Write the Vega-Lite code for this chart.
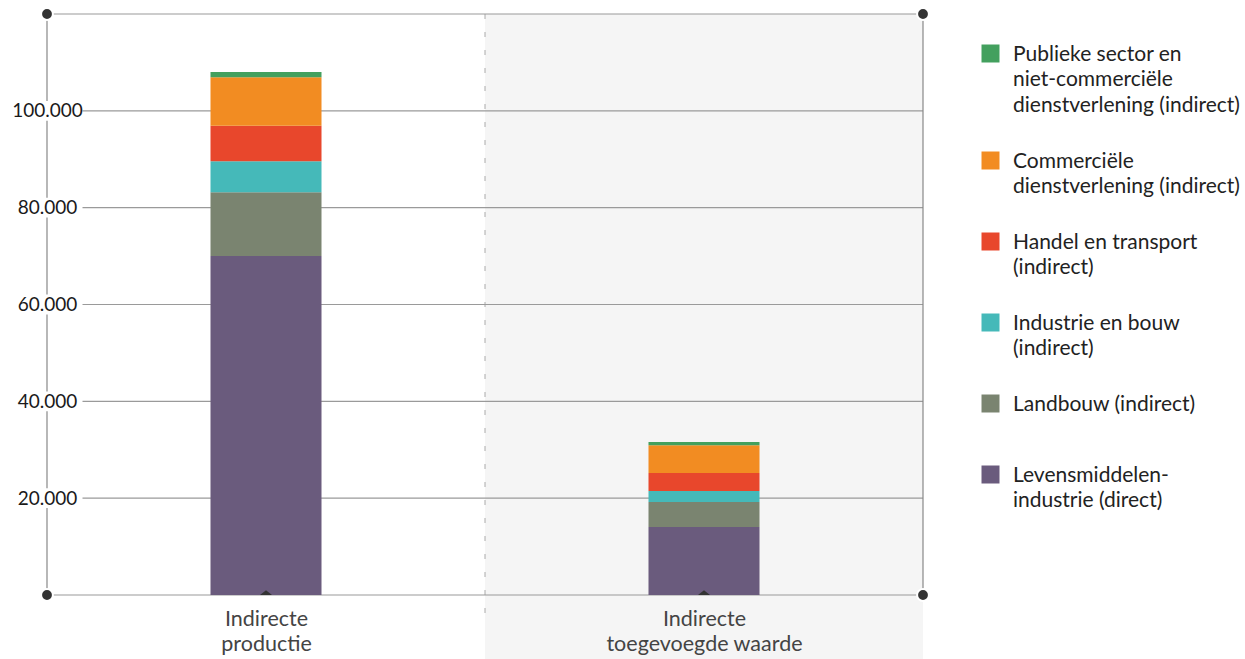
{
  "$schema": "https://vega.github.io/schema/vega-lite/v6.json",
  "width": 876,
  "height": 581,
  "autosize": {"type": "none"},
  "padding": {"left": 47, "top": 14, "right": 322, "bottom": 64},
  "background": "white",
  "config": {"view": {"stroke": null}, "font": "Lato"},
  "datasets": {
    "bars": [
      {"categorie": "Indirecte productie", "pos": 0.5, "sector": "Levensmiddelen-industrie (direct)", "ord": 1, "waarde": 70000},
      {"categorie": "Indirecte productie", "pos": 0.5, "sector": "Landbouw (indirect)", "ord": 2, "waarde": 13200},
      {"categorie": "Indirecte productie", "pos": 0.5, "sector": "Industrie en bouw (indirect)", "ord": 3, "waarde": 6400},
      {"categorie": "Indirecte productie", "pos": 0.5, "sector": "Handel en transport (indirect)", "ord": 4, "waarde": 7300},
      {"categorie": "Indirecte productie", "pos": 0.5, "sector": "Commerciële dienstverlening (indirect)", "ord": 5, "waarde": 10050},
      {"categorie": "Indirecte productie", "pos": 0.5, "sector": "Publieke sector en niet-commerciële dienstverlening (indirect)", "ord": 6, "waarde": 1050},
      {"categorie": "Indirecte toegevoegde waarde", "pos": 1.5, "sector": "Levensmiddelen-industrie (direct)", "ord": 1, "waarde": 14050},
      {"categorie": "Indirecte toegevoegde waarde", "pos": 1.5, "sector": "Landbouw (indirect)", "ord": 2, "waarde": 5150},
      {"categorie": "Indirecte toegevoegde waarde", "pos": 1.5, "sector": "Industrie en bouw (indirect)", "ord": 3, "waarde": 2300},
      {"categorie": "Indirecte toegevoegde waarde", "pos": 1.5, "sector": "Handel en transport (indirect)", "ord": 4, "waarde": 3700},
      {"categorie": "Indirecte toegevoegde waarde", "pos": 1.5, "sector": "Commerciële dienstverlening (indirect)", "ord": 5, "waarde": 5750},
      {"categorie": "Indirecte toegevoegde waarde", "pos": 1.5, "sector": "Publieke sector en niet-commerciële dienstverlening (indirect)", "ord": 6, "waarde": 650}
    ],
    "grid": [{"y": 0}, {"y": 20000}, {"y": 40000}, {"y": 60000}, {"y": 80000}, {"y": 100000}, {"y": 120000}],
    "ticklabels": [{"y": 20000}, {"y": 40000}, {"y": 60000}, {"y": 80000}, {"y": 100000}],
    "sides": [{"x": 0}, {"x": 2}],
    "corners": [{"x": 0, "y": 0}, {"x": 2, "y": 0}, {"x": 0, "y": 120000}, {"x": 2, "y": 120000}],
    "cats": [{"pos": 0.5}, {"pos": 1.5}]
  },
  "layer": [
    {
      "data": {"values": [{"x": 1, "x2": 2, "y": -13300, "y2": 120000}]},
      "mark": {"type": "rect", "fill": "#f5f5f5"},
      "encoding": {
        "x": {"field": "x", "type": "quantitative", "scale": {"domain": [0, 2], "nice": false, "zero": false, "padding": 0}},
        "x2": {"field": "x2"},
        "y": {"field": "y", "type": "quantitative", "scale": {"domain": [0, 120000], "nice": false, "zero": false, "padding": 0}},
        "y2": {"field": "y2"}
      }
    },
    {
      "data": {"values": [{"x": 1}]},
      "mark": {"type": "rule", "stroke": "#aaaaaa", "strokeWidth": 1, "strokeDash": [5, 13]},
      "encoding": {
        "x": {"field": "x", "type": "quantitative"},
        "y": {"datum": 120000, "type": "quantitative"},
        "y2": {"datum": -5000}
      }
    },
    {
      "data": {"name": "grid"},
      "mark": {"type": "rule", "stroke": "#9a9a9a", "strokeWidth": 1.2},
      "encoding": {
        "x": {"datum": 0, "type": "quantitative"},
        "x2": {"datum": 2},
        "y": {"field": "y", "type": "quantitative"}
      }
    },
    {
      "data": {"name": "sides"},
      "mark": {"type": "rule", "stroke": "#888888", "strokeWidth": 1.2},
      "encoding": {
        "x": {"field": "x", "type": "quantitative"},
        "y": {"datum": 0, "type": "quantitative"},
        "y2": {"datum": 120000}
      }
    },
    {
      "data": {"name": "ticklabels"},
      "mark": {"type": "point", "shape": "M-1,-0.28L1,-0.28L1,0.28L-1,0.28Z", "size": 5041, "filled": true, "fill": "white", "opacity": 1, "strokeWidth": 0},
      "encoding": {
        "x": {"datum": 0, "type": "quantitative"},
        "y": {"field": "y", "type": "quantitative"}
      }
    },
    {
      "data": {"name": "bars"},
      "mark": {"type": "bar", "size": 111},
      "encoding": {
        "x": {
          "field": "pos", "type": "quantitative",
          "axis": {
            "values": [0.5, 1.5],
            "labelExpr": "datum.value < 1 ? ['Indirecte', 'productie'] : ['Indirecte', 'toegevoegde waarde']",
            "domain": false, "ticks": false, "grid": false, "title": null,
            "labelFont": "Lato", "labelFontSize": 21.5, "labelColor": "#444444", "labelLimit": 400,
            "labelPadding": 13, "labelLineHeight": 25, "labelAlign": "center", "zindex": 2
          }
        },
        "y": {
          "field": "waarde", "type": "quantitative", "stack": "zero",
          "axis": {
            "values": [20000, 40000, 60000, 80000, 100000],
            "labelExpr": "replace(format(datum.value, ','), ',', '.')",
            "domain": false, "ticks": false, "grid": false, "title": null,
            "labelAlign": "center", "labelBaseline": "middle", "labelPadding": 0,
            "labelFont": "Lato", "labelFontSize": 19, "labelColor": "#1a1a1a", "zindex": 2
          }
        },
        "order": {"field": "ord", "type": "quantitative"},
        "color": {
          "field": "sector", "type": "nominal",
          "scale": {
            "domain": [
              "Publieke sector en niet-commerciële dienstverlening (indirect)",
              "Commerciële dienstverlening (indirect)",
              "Handel en transport (indirect)",
              "Industrie en bouw (indirect)",
              "Landbouw (indirect)",
              "Levensmiddelen-industrie (direct)"
            ],
            "range": ["#43a05e", "#f28c22", "#e8472c", "#45b9b9", "#7a8470", "#6a5b7d"]
          },
          "legend": {
            "orient": "none", "legendX": 933, "legendY": 29,
            "title": null, "symbolType": "square", "symbolSize": 324, "symbolStrokeWidth": 0,
            "labelFont": "Lato", "labelFontSize": 21, "labelColor": "#222222", "labelOffset": 12, "labelLimit": 400,
            "rowPadding": 34, "labelBaseline": "alphabetic",
            "labelExpr": "datum.label == 'Publieke sector en niet-commerciële dienstverlening (indirect)' ? ['Publieke sector en', 'niet-commerciële', 'dienstverlening (indirect)'] : datum.label == 'Commerciële dienstverlening (indirect)' ? ['Commerciële', 'dienstverlening (indirect)'] : datum.label == 'Handel en transport (indirect)' ? ['Handel en transport', '(indirect)'] : datum.label == 'Industrie en bouw (indirect)' ? ['Industrie en bouw', '(indirect)'] : datum.label == 'Levensmiddelen-industrie (direct)' ? ['Levensmiddelen-', 'industrie (direct)'] : [datum.label, '']",
            "encode": {"labels": {"update": {"dy": {"value": 7}, "lineHeight": {"signal": "datum.value == 'Landbouw (indirect)' ? 15 : 25.5"}}}}
          }
        }
      }
    },
    {
      "data": {"name": "cats"},
      "mark": {"type": "point", "shape": "M-1,0L0,-0.8L1,0Z", "size": 144, "filled": true, "fill": "#333333", "opacity": 1, "strokeWidth": 0},
      "encoding": {
        "x": {"field": "pos", "type": "quantitative"},
        "y": {"datum": 0, "type": "quantitative"}
      }
    },
    {
      "data": {"name": "corners"},
      "mark": {"type": "point", "shape": "circle", "size": 140, "filled": true, "fill": "#333333", "stroke": "white", "strokeWidth": 2, "opacity": 1},
      "encoding": {
        "x": {"field": "x", "type": "quantitative"},
        "y": {"field": "y", "type": "quantitative"}
      }
    }
  ]
}
